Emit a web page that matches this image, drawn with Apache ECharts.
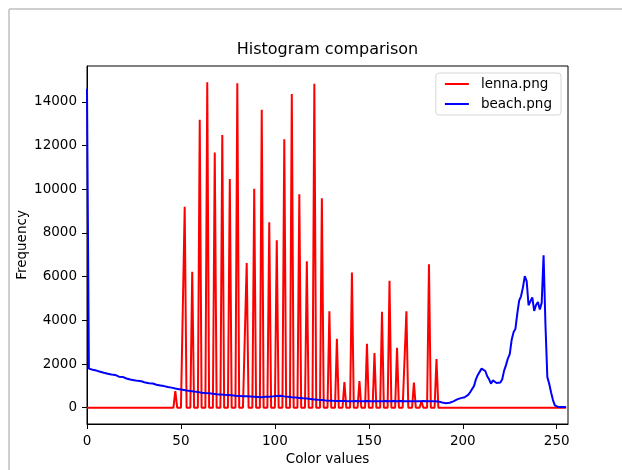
<!DOCTYPE html>
<html>
<head>
<meta charset="utf-8">
<script src="https://cdn.jsdelivr.net/npm/echarts@6/dist/echarts.min.js"></script>
<style>
html,body{margin:0;padding:0;background:#fff;}
#chart{width:622px;height:470px;}
</style>
</head>
<body>
<div id="chart"></div>
<script>
// Color values (bins 0..255)
const binCount = 256;
// lenna.png histogram: non-zero bins and their counts (all other bins are 0)
const lennaBins   = [47, 52, 56, 60, 64, 68, 72, 76, 80, 85, 89, 93, 97, 101, 105, 109, 113, 117, 121, 125, 129, 133, 137, 141, 145, 149, 153, 157, 161, 165, 170, 174, 178, 182, 186];
const lennaCounts = [760, 9200, 6220, 13180, 14900, 11680, 12480, 10470, 14860, 6630, 10030, 13640, 8490, 7670, 12290, 14360, 9770, 6710, 14830, 9590, 4420, 3160, 1170, 6190, 1220, 2930, 2500, 4390, 5810, 2750, 4420, 1150, 300, 6570, 2230];
// beach.png histogram, bins 0..255
const beachCounts = [
14600,1790,1760,1740,1720,1700,1690,1650,1640,1600,
1610,1560,1540,1520,1490,1500,1440,1420,1400,1410,
1360,1340,1330,1290,1300,1260,1240,1230,1200,1210,
1170,1150,1140,1120,1100,1110,1070,1050,1060,1020,
1000,990,960,950,960,920,900,880,890,850,
830,820,800,790,780,770,760,740,730,720,
700,690,680,670,660,660,650,640,630,620,
610,610,600,590,580,580,570,570,560,550,
550,540,530,530,520,520,510,510,500,500,
490,490,490,480,490,500,490,500,510,520,
530,540,560,550,530,520,510,500,490,480,
480,470,460,450,440,430,420,420,410,400,
390,380,370,360,350,350,340,335,330,325,
320,318,315,312,310,305,300,305,300,298,
295,300,298,303,300,295,290,295,300,305,
300,295,290,300,305,300,295,300,310,305,
300,295,300,305,300,295,300,310,305,300,
310,300,295,300,290,295,300,295,300,310,
305,300,295,300,305,300,295,290,280,240,
220,210,215,230,260,290,330,380,410,440,
460,480,490,600,720,800,1000,1300,1500,1560,
1790,1700,1680,1440,1300,1100,1250,1160,1130,1130,
1150,1300,1700,1950,2250,2450,3100,3450,3600,4300,
4900,5100,5500,6020,5800,4690,4700,5050,4430,4700,
4840,4500,4800,6980,3800,1400,1100,700,350,110,
40,30,30,30,30,30
];
const xTicks = [0, 50, 100, 150, 200, 250];
const yTicks = [0, 2000, 4000, 6000, 8000, 10000, 12000, 14000];
const seriesNames = ['lenna.png', 'beach.png'];
const seriesColors = ['#ff0000', '#0000ff'];

const lennaFull = new Array(binCount).fill(0);
lennaBins.forEach((b, i) => { lennaFull[b] = lennaCounts[i]; });
const lennaData = lennaFull.map((v, i) => [i, v]);
const beachData = beachCounts.map((v, i) => [i, v]);

const FONT = 'DejaVu Sans';
const chart = echarts.init(document.getElementById('chart'), null, {renderer: 'canvas'});
chart.setOption({
  backgroundColor: '#fff',
  animation: false,
  textStyle: {fontFamily: FONT},
  grid: {
    left: 87, right: 54, top: 66, bottom: 46,
    containLabel: false, outerBoundsMode: 'none',
    show: true, borderColor: '#000', borderWidth: 1, backgroundColor: 'transparent'
  },
  graphic: [
    {type: 'line', shape: {x1: 9, y1: 9, x2: 622, y2: 9}, style: {stroke: '#cfcfcf', lineWidth: 2}, silent: true},
    {type: 'line', shape: {x1: 9, y1: 9, x2: 9, y2: 470}, style: {stroke: '#cfcfcf', lineWidth: 2}, silent: true},
    {type: 'text', x: 327.5, y: 50, style: {text: 'Histogram comparison', font: '16px "DejaVu Sans"', fill: '#000', textAlign: 'center', textVerticalAlign: 'middle'}}
  ],
  legend: {
    orient: 'vertical',
    right: 61, top: 73,
    data: seriesNames.map((n, i) => ({name: n, icon: 'path://M0,0L24,0L24,2L0,2Z', itemStyle: {color: seriesColors[i]}})),
    symbolKeepAspect: true,
    backgroundColor: '#fff',
    borderColor: '#d6d6d6', borderWidth: 1, borderRadius: 3,
    padding: [4, 9, 4, 9],
    itemWidth: 24, itemHeight: 14, itemGap: 6,
    textStyle: {fontFamily: FONT, fontSize: 13.5, color: '#000', padding: [0, 0, 0, 7]}
  },
  xAxis: {
    type: 'value', min: 0, max: 256,
    name: 'Color values', nameLocation: 'middle', nameGap: 28, nameMoveOverlap: false,
    nameTextStyle: {fontFamily: FONT, fontSize: 13.5, color: '#000'},
    axisLine: {show: true, onZero: false, lineStyle: {color: '#000', width: 1}},
    axisTick: {show: true, length: 5, customValues: xTicks, lineStyle: {color: '#000'}},
    axisLabel: {customValues: xTicks, margin: 10, fontFamily: FONT, fontSize: 13.5, color: '#000'},
    splitLine: {show: false}
  },
  yAxis: {
    type: 'value', min: -745, max: 15645,
    name: 'Frequency', nameLocation: 'middle', nameGap: 58, nameRotate: 90, nameMoveOverlap: false,
    nameTextStyle: {fontFamily: FONT, fontSize: 13.5, color: '#000'},
    axisLine: {show: true, onZero: false, lineStyle: {color: '#000', width: 1}},
    axisTick: {show: true, length: 5, customValues: yTicks, lineStyle: {color: '#000'}},
    axisLabel: {customValues: yTicks, margin: 10, fontFamily: FONT, fontSize: 13.5, color: '#000',
                formatter: v => String(v)},
    splitLine: {show: false}
  },
  series: [
    {name: seriesNames[0], type: 'line', data: lennaData, symbol: 'none', showSymbol: false,
     lineStyle: {color: seriesColors[0], width: 2}, itemStyle: {color: seriesColors[0]}, clip: true},
    {name: seriesNames[1], type: 'line', data: beachData, symbol: 'none', showSymbol: false,
     lineStyle: {color: seriesColors[1], width: 2}, itemStyle: {color: seriesColors[1]}, clip: true}
  ]
});
</script>
</body>
</html>
